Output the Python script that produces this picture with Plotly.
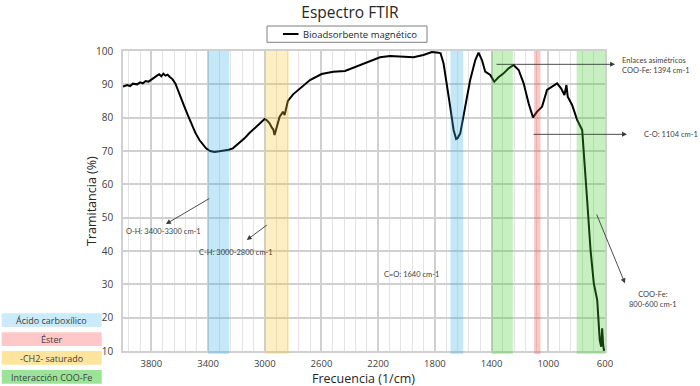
import plotly.graph_objects as go

# ---------------- data ----------------
wavenumber = [4000, 3970, 3950, 3930, 3900, 3880, 3860, 3840, 3820, 3800, 3780, 3760, 3745, 3730,
              3715, 3700, 3685, 3670, 3650, 3630, 3614, 3590, 3567, 3545, 3520, 3490, 3461, 3435,
              3414, 3385, 3355, 3320, 3284, 3255, 3225, 3190, 3143, 3110, 3072, 3035, 3001, 2985,
              2966, 2950, 2940, 2931, 2918, 2905, 2895, 2880, 2872, 2860, 2848, 2837, 2800, 2766,
              2752, 2681, 2599, 2517, 2434, 2351, 2269, 2187, 2116, 2022, 1951, 1881, 1821, 1775,
              1760, 1739, 1715, 1692, 1668, 1650, 1640, 1621, 1586, 1551, 1515, 1492, 1468, 1445,
              1409, 1381, 1351, 1315, 1280, 1245, 1209, 1174, 1139, 1108, 1079, 1044, 1009, 973,
              938, 910, 886, 872, 863, 832, 796, 761, 750, 726, 702, 679, 655, 644, 637, 627, 620,
              613, 608, 600]
transmittance = [89.3, 89.8, 89.5, 90.2, 90.0, 90.6, 90.3, 91.0, 90.8, 91.5, 92.0, 92.6, 93.0, 92.4,
                 93.2, 92.6, 92.9, 92.2, 91.5, 90.2, 88.3, 86.0, 83.3, 81.0, 78.3, 75.5, 73.3, 71.8,
                 70.8, 70.0, 69.7, 69.9, 70.1, 70.4, 70.8, 72.0, 73.8, 75.3, 76.8, 78.3, 79.6, 79.2,
                 78.3, 77.0, 76.5, 74.8, 77.0, 79.0, 80.3, 81.2, 81.8, 80.8, 83.0, 85.0, 87.0, 88.3,
                 88.8, 91.3, 93.1, 93.8, 94.0, 95.3, 96.8, 98.1, 98.5, 98.3, 98.1, 98.8, 99.7, 99.5,
                 99.3, 96.3, 90.3, 83.3, 76.3, 73.6, 73.8, 75.3, 83.3, 91.3, 97.3, 99.5, 97.3, 93.8,
                 92.8, 90.8, 92.1, 93.3, 94.8, 95.8, 94.3, 90.3, 84.3, 80.1, 81.8, 83.3, 88.3, 89.3,
                 90.3, 88.8, 86.8, 89.8, 86.3, 83.8, 79.3, 76.3, 70.3, 55.3, 40.3, 30.3, 25.3, 19.3,
                 13.3, 11.3, 16.8, 11.8, 10.3, 10.5]

series_name = "Bioadsorbente magnético"

# functional-group bands (cm-1)
band_names = ["Ácido carboxílico", "-CH2- saturado", "Ácido carboxílico", "Interacción COO-Fe",
              "Éster", "Interacción COO-Fe"]
band_start = [3400, 3000, 1690, 1400, 1100, 800]
band_end = [3250, 2830, 1600, 1250, 1055, 600]

group_names = ["Ácido carboxílico", "Éster", "-CH2- saturado", "Interacción COO-Fe"]
group_band_color = {
    "Ácido carboxílico": "rgba(62,178,232,0.30)",
    "Éster": "rgba(240,70,70,0.30)",
    "-CH2- saturado": "rgba(248,200,60,0.30)",
    "Interacción COO-Fe": "rgba(65,205,45,0.30)",
}
group_box_color = {
    "Ácido carboxílico": "#c9ebfa",
    "Éster": "#ffc8c8",
    "-CH2- saturado": "#fee49c",
    "Interacción COO-Fe": "#9ae496",
}

x_ticks = [3800, 3400, 3000, 2600, 2200, 1800, 1400, 1000, 600]
y_ticks = [10, 20, 30, 40, 50, 60, 70, 80, 90, 100]

# ---------------- layout helpers ----------------
W, H = 700, 386
L, R, T, B = 123, 605, 51, 351


def pxx(x):
    return (x - L) / (R - L)


def pxy(y):
    return (B - y) / (B - T)


FONT = "Open Sans"
SMALL = "Lato"
TXT = "#404040"

fig = go.Figure()
fig.add_trace(go.Scatter(x=wavenumber, y=transmittance, mode="lines", name=series_name,
                         line=dict(color="black", width=2), showlegend=False))

shapes = []
for s, e, n in zip(band_start, band_end, band_names):
    shapes.append(dict(type="rect", xref="x", yref="paper", x0=s, x1=e, y0=-0.01, y1=1,
                       fillcolor=group_band_color[n], line=dict(width=0), layer="above"))

# legend box (manual)
shapes.append(dict(type="rect", xref="paper", yref="paper", x0=pxx(267), x1=pxx(427),
                   y0=pxy(42.3), y1=pxy(26), line=dict(color="#7f7f7f", width=1),
                   fillcolor="white"))
shapes.append(dict(type="line", xref="paper", yref="paper", x0=pxx(283), x1=pxx(298.5),
                   y0=pxy(34), y1=pxy(34), line=dict(color="black", width=2)))

annotations = [
    dict(xref="paper", yref="paper", x=pxx(300.5), y=pxy(34.2), text=series_name,
         showarrow=False, xanchor="left", yanchor="middle",
         font=dict(family=FONT, size=9.5, color="#262626")),
    dict(xref="paper", yref="paper", x=pxx(363.5), y=pxy(378), text="Frecuencia (1/cm)",
         showarrow=False, xanchor="center", yanchor="middle",
         font=dict(family=FONT, size=12.5, color="#262626")),
    dict(xref="paper", yref="paper", x=pxx(91), y=0.5, text="Tramitancia (%)", textangle=-90,
         showarrow=False, xanchor="center", yanchor="middle",
         font=dict(family=FONT, size=12.5, color="#262626")),
]

# left legend of functional groups
box_tops = [313.3, 332.3, 351, 370]
for n, top in zip(group_names, box_tops):
    shapes.append(dict(type="rect", xref="paper", yref="paper", x0=pxx(1.7), x1=pxx(101.7),
                       y0=pxy(top + 13.8), y1=pxy(top), fillcolor=group_box_color[n],
                       line=dict(width=0), layer="above"))
    annotations.append(dict(xref="paper", yref="paper", x=pxx(51.7), y=pxy(top + 7), text=n,
                            showarrow=False, xanchor="center", yanchor="middle",
                            font=dict(family=FONT, size=9, color=TXT)))

# arrows (head x,y ; tail ax, ay in data units)
arrows = [
    (529, 96.0, 1376, 96.0),
    (445, 75.0, 1115, 75.0),
    (459, 30.3, 663, 51.4),
    (3697, 48.1, 3381, 56.0),
    (3127, 43.3, 2975, 48.1),
]
for hx, hy, tx, ty in arrows:
    annotations.append(dict(x=hx, y=hy, ax=tx, ay=ty, xref="x", yref="y", axref="x", ayref="y",
                            text="", showarrow=True, arrowhead=2, arrowsize=1.1, arrowwidth=0.9,
                            arrowcolor="#3a3a3a", standoff=0, startstandoff=0))

# labels inside the plot (data units)
labels = [
    (3711, 45.8, "O-H: 3400-3300 cm-1"),
    (3203, 39.5, "C-H: 3000-2800 cm-1"),
    (1965, 33.0, "C=O: 1640 cm-1"),
]
for lx, ly, t in labels:
    annotations.append(dict(x=lx, y=ly, xref="x", yref="y", text=t, showarrow=False,
                            xanchor="center", yanchor="middle",
                            font=dict(family=SMALL, size=7.5, color=TXT)))

# labels to the right of the plot (paper units)
side_labels = [
    (620, 65.3, "Enlaces asimétricos<br>COO-Fe: 1394 cm-1", "left"),
    (642, 134.3, "C-O: 1104 cm-1", "left"),
    (653, 299.5, "COO-Fe:<br>800-600 cm-1", "center"),
]
for lx, ly, t, anc in side_labels:
    annotations.append(dict(x=pxx(lx), y=pxy(ly), xref="paper", yref="paper", text=t,
                            showarrow=False, xanchor=anc, yanchor="middle", align=anc,
                            font=dict(family=SMALL, size=7.5, color=TXT)))

fig.update_layout(
    width=W, height=H,
    margin=dict(l=L, r=W - R, t=T, b=H - B, pad=0),
    paper_bgcolor="white", plot_bgcolor="white",
    title=dict(text="Espectro FTIR", x=0.5, xanchor="center", y=1 - 12.5 / H, yanchor="middle",
               font=dict(family=FONT, size=15.5, color="#262626")),
    shapes=shapes, annotations=annotations,
    xaxis=dict(range=[4000, 600], tickvals=x_ticks, ticktext=[str(v) for v in x_ticks],
               showgrid=True, gridcolor="#d0d0d0", gridwidth=1.5,
               minor=dict(dtick=80, tick0=600, showgrid=True, gridcolor="#e4e4e4", gridwidth=1),
               showline=True, linecolor="#d0d0d0", linewidth=1.5, mirror=True,
               ticks="", tickfont=dict(family=FONT, size=9.5, color=TXT), zeroline=False,
               ticklabelstandoff=3),
    yaxis=dict(range=[10, 100], tickvals=y_ticks, ticktext=[str(v) for v in y_ticks],
               showgrid=True, gridcolor="#d0d0d0", gridwidth=1.5,
               showline=True, linecolor="#d0d0d0", linewidth=1.5, mirror=True,
               ticks="", tickfont=dict(family=FONT, size=10, color=TXT), zeroline=False,
               ticklabelstandoff=6),
)

fig.write_html("out.html", config={"displayModeBar": False},
               post_script="document.body.style.margin='0';")
